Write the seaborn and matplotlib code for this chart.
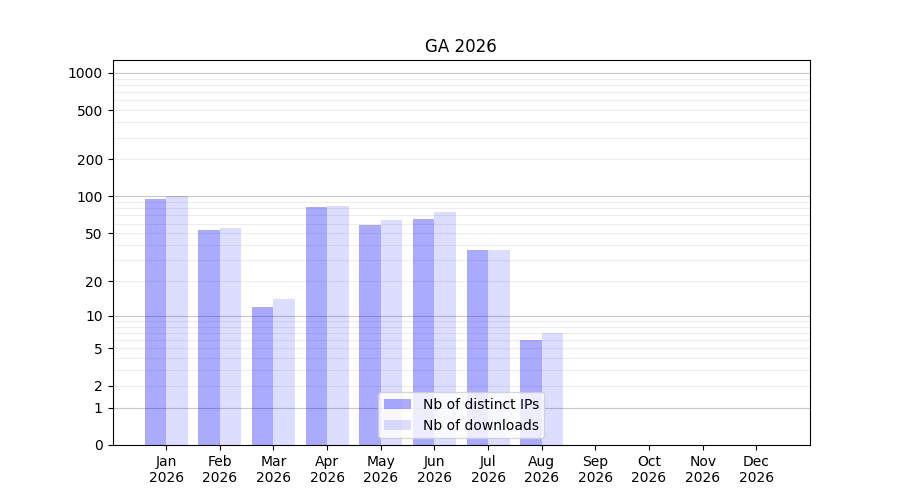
import numpy as np
import pandas as pd
import seaborn as sns
import matplotlib
matplotlib.use("Agg")
import matplotlib.pyplot as plt

months = ["Jan", "Feb", "Mar", "Apr", "May", "Jun",
          "Jul", "Aug", "Sep", "Oct", "Nov", "Dec"]
year = "2026"
distinct_ips = [95, 53, 12, 82, 58, 65, 36, 6, 0, 0, 0, 0]
downloads = [100, 55, 14, 84, 64, 75, 36, 7, 0, 0, 0, 0]
series_names = ["Nb of distinct IPs", "Nb of downloads"]
ytick_vals = [0, 1, 2, 5, 10, 20, 50, 100, 200, 500, 1000]

labels = [m + "\n" + year for m in months]
df = pd.DataFrame({
    "month": labels * 2,
    "value": distinct_ips + downloads,
    "series": [series_names[0]] * 12 + [series_names[1]] * 12,
})

# semi transparent blue, so the grid shows through the bars
colors = [(0, 0, 1, 0.333), (0, 0, 1, 0.133)]

fig, ax = plt.subplots(figsize=(9, 5), dpi=100)
sns.barplot(data=df, x="month", y="value", hue="series",
            palette=["#aaaaff", "#ddddff"], saturation=1, width=0.8,
            ax=ax, zorder=2)
for cont, c in zip(ax.containers, colors):
    for p in cont:
        p.set_facecolor(c)
        p.set_edgecolor("none")

# log(1+y) scale
ax.set_yscale("function", functions=(lambda y: np.log10(np.maximum(y, 0) + 1),
                                     lambda t: 10 ** t - 1))
ax.set_ylim(0, 1270)
ax.set_xlim(-1, 12)

# grid lines
for d in [1, 10, 100, 1000]:
    ax.axhline(d, color="#c8c8c8", lw=0.8, zorder=1)
    for k in range(2, 10):
        v = d * k
        if v < 1270:
            ax.axhline(v, color="#ededed", lw=0.8, zorder=1)

ax.set_yticks(ytick_vals)
ax.set_yticklabels([str(v) for v in ytick_vals])
ax.yaxis.set_minor_locator(matplotlib.ticker.NullLocator())
ax.set_xlabel("")
ax.set_ylabel("")
ax.set_title("GA 2026")
leg = ax.legend(loc="lower center")
for h, c in zip(leg.legend_handles, colors):
    h.set_facecolor(c)
    h.set_edgecolor("none")

fig.savefig("out.png")
